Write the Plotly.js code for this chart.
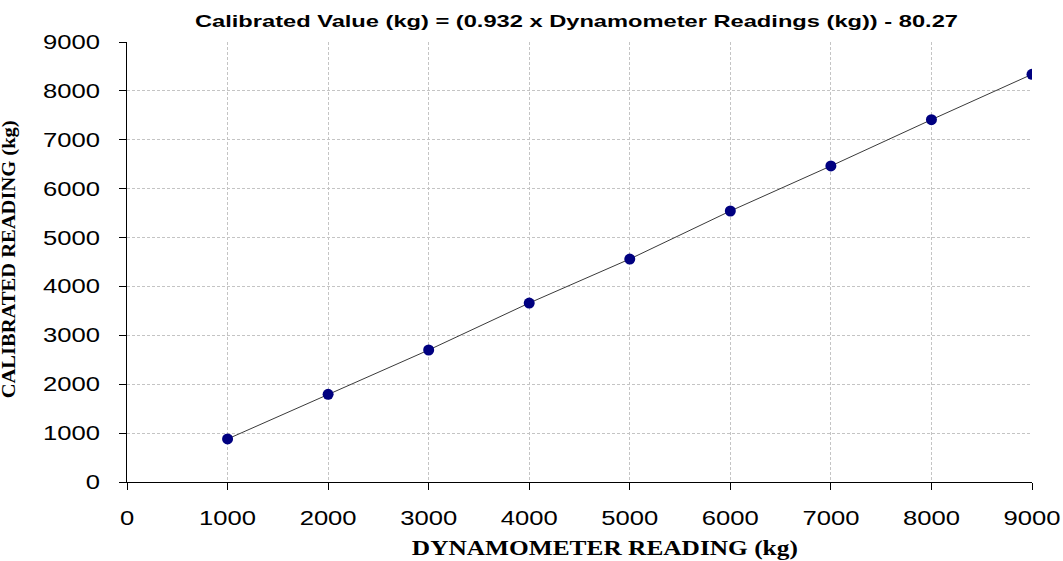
<!DOCTYPE html>
<html>
<head>
<meta charset="utf-8">
<script src="https://cdn.plot.ly/plotly-3.0.1.min.js"></script>
<style>html,body{margin:0;padding:0;background:#fff;}#chart{width:1063px;height:561px;}</style>
</head>
<body>
<div id="chart"></div>
<script>
// Dynamometer readings (kg)
const dynamometerReading = [1000, 2000, 3000, 4000, 5000, 6000, 7000, 8000, 9000];
// Calibrated readings (kg)
const calibratedReading = [880, 1794, 2700, 3661, 4561, 5543, 6464, 7411, 8339];
const xTicks = [0, 1000, 2000, 3000, 4000, 5000, 6000, 7000, 8000, 9000];
const yTicks = [0, 1000, 2000, 3000, 4000, 5000, 6000, 7000, 8000, 9000];
const chartTitle = 'Calibrated Value (kg) = (0.932 x Dynamometer Readings (kg)) - 80.27';
const xTitle = 'DYNAMOMETER READING (kg)';
const yTitle = 'CALIBRATED READING (kg)';

const trace = {
  x: dynamometerReading,
  y: calibratedReading,
  type: 'scatter',
  mode: 'lines+markers',
  line: {color: '#3a3a3a', width: 1},
  marker: {color: '#000080', size: 11, line: {width: 0}},
  showlegend: false,
  hoverinfo: 'x+y'
};

const sans = 'Liberation Sans, Arial, sans-serif';
const serif = 'Liberation Serif, Times New Roman, serif';

const axisCommon = {
  showline: true,
  linecolor: '#000',
  linewidth: 1,
  ticks: 'outside',
  ticklen: 7,
  tickcolor: '#000',
  tickwidth: 1,
  showgrid: true,
  gridcolor: '#c4c4c4',
  griddash: '3px,2px',
  gridwidth: 1,
  zeroline: false,
  tickfont: {family: sans, size: 20, color: '#000'},
  fixedrange: true
};

const layout = {
  width: 1063,
  height: 561,
  margin: {l: 127, r: 31, t: 42, b: 79},
  paper_bgcolor: '#fff',
  plot_bgcolor: '#fff',
  title: {
    text: chartTitle,
    font: {family: sans, size: 17, weight: 'bold', color: '#000'},
    x: 0.5423, xanchor: 'center', y: 0.962, yanchor: 'middle'
  },
  xaxis: Object.assign({}, axisCommon, {
    range: [0, 9000],
    tickvals: xTicks,
    ticktext: xTicks.map(String),
    ticklabelstandoff: 11
  }),
  yaxis: Object.assign({}, axisCommon, {
    range: [0, 9000],
    tickvals: yTicks,
    ticktext: yTicks.map(String),
    ticklabelstandoff: 15
  }),
  annotations: [
    {
      text: xTitle, xref: 'paper', yref: 'paper',
      x: 0.528, y: -0.149, xanchor: 'center', yanchor: 'middle',
      showarrow: false,
      font: {family: serif, size: 21, weight: 'bold', color: '#000'}
    },
    {
      text: yTitle, xref: 'paper', yref: 'paper',
      x: -0.129, y: 0.507, xanchor: 'center', yanchor: 'middle',
      textangle: -90, showarrow: false,
      font: {family: serif, size: 18, weight: 'bold', color: '#000'}
    }
  ]
};

function stretchTo(el, target) {
  if (!el) return;
  el.setAttribute('textLength', target);
  el.setAttribute('lengthAdjust', 'spacingAndGlyphs');
}
function stretchBy(el, factor) {
  if (!el) return;
  const L = el.getComputedTextLength();
  stretchTo(el, L * factor);
}

Plotly.newPlot('chart', [trace], layout, {displayModeBar: false}).then(function (gd) {
  gd.querySelectorAll('.xtick text, .ytick text').forEach(function (t) { stretchBy(t, 1.28); });
  stretchTo(gd.querySelector('.gtitle'), 763);
  const ann = gd.querySelectorAll('.annotation-text');
  stretchTo(ann[0], 386);
  stretchTo(ann[1], 278);
});
</script>
</body>
</html>
